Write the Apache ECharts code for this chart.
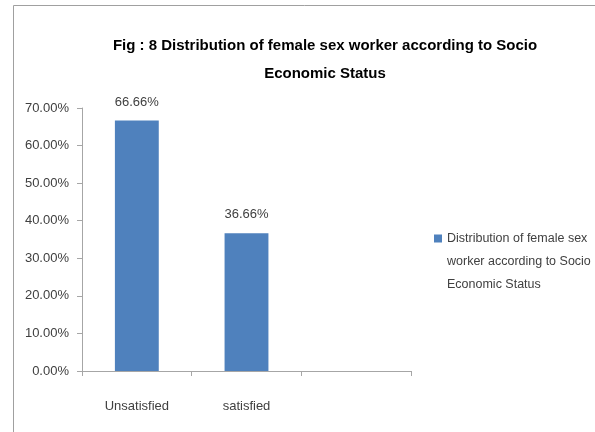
<!DOCTYPE html>
<html><head><meta charset="utf-8">
<script src="https://cdn.jsdelivr.net/npm/echarts@6/dist/echarts.min.js"></script>
<style>html,body{margin:0;padding:0;background:#fff}#c{width:595px;height:432px}</style>
</head><body><div id="c"></div>
<script>
var categories = ['Unsatisfied', 'satisfied', ''];
var values = [66.66, 36.66, null];
var yTicks = [0, 10, 20, 30, 40, 50, 60, 70];
var seriesName = 'Distribution of female sex worker according to Socio Economic Status';
var legendLines = ['Distribution of female sex', 'worker according to Socio', 'Economic Status'];
var titleText = 'Fig : 8 Distribution of female sex worker according to Socio\nEconomic Status';
var FONT = '"Liberation Sans", Arial, sans-serif';
var chart = echarts.init(document.getElementById('c'));
chart.setOption({
  animation: false,
  graphic: [{type: 'rect', shape: {x: 13.5, y: 5.5, width: 600, height: 440}, style: {fill: 'none', stroke: '#a0a0a0', lineWidth: 1}}],
  title: {text: titleText, left: 320, textAlign: 'center', top: 27,
    textStyle: {fontFamily: FONT, fontSize: 15, fontWeight: 'bold', color: '#000', lineHeight: 28}},
  legend: {orient: 'vertical', left: 429, top: 176, itemWidth: 8, itemHeight: 8, itemGap: 4,
    icon: 'rect', data: [seriesName],
    formatter: function(){ return '\n\n' + legendLines.join('\n'); },
    textStyle: {fontFamily: FONT, fontSize: 12.5, color: '#404040', lineHeight: 23}},
  grid: {left: 82, right: 184, top: 108, bottom: 61, containLabel: false},
  xAxis: {type: 'category', data: categories,
    axisLine: {lineStyle: {color: '#a6a6a6'}},
    axisTick: {show: true, alignWithLabel: false, length: 5, lineStyle: {color: '#a6a6a6'}},
    axisLabel: {fontFamily: FONT, fontSize: 13, color: '#404040', margin: 29}},
  yAxis: {type: 'value', min: 0, max: 70, interval: 10,
    axisLine: {show: true, lineStyle: {color: '#a6a6a6'}},
    axisTick: {show: true, length: 5, lineStyle: {color: '#a6a6a6'}},
    splitLine: {show: false},
    axisLabel: {fontFamily: FONT, fontSize: 13, color: '#404040', margin: 13,
      formatter: function(v){ return v.toFixed(2) + '%'; }}},
  series: [{name: seriesName, type: 'bar', data: values, barWidth: '40%',
    itemStyle: {color: '#4f81bd'},
    label: {show: true, position: 'top', distance: 12, fontFamily: FONT, fontSize: 13, color: '#404040',
      formatter: function(p){ return p.value.toFixed(2) + '%'; }}}]
});
</script></body></html>
